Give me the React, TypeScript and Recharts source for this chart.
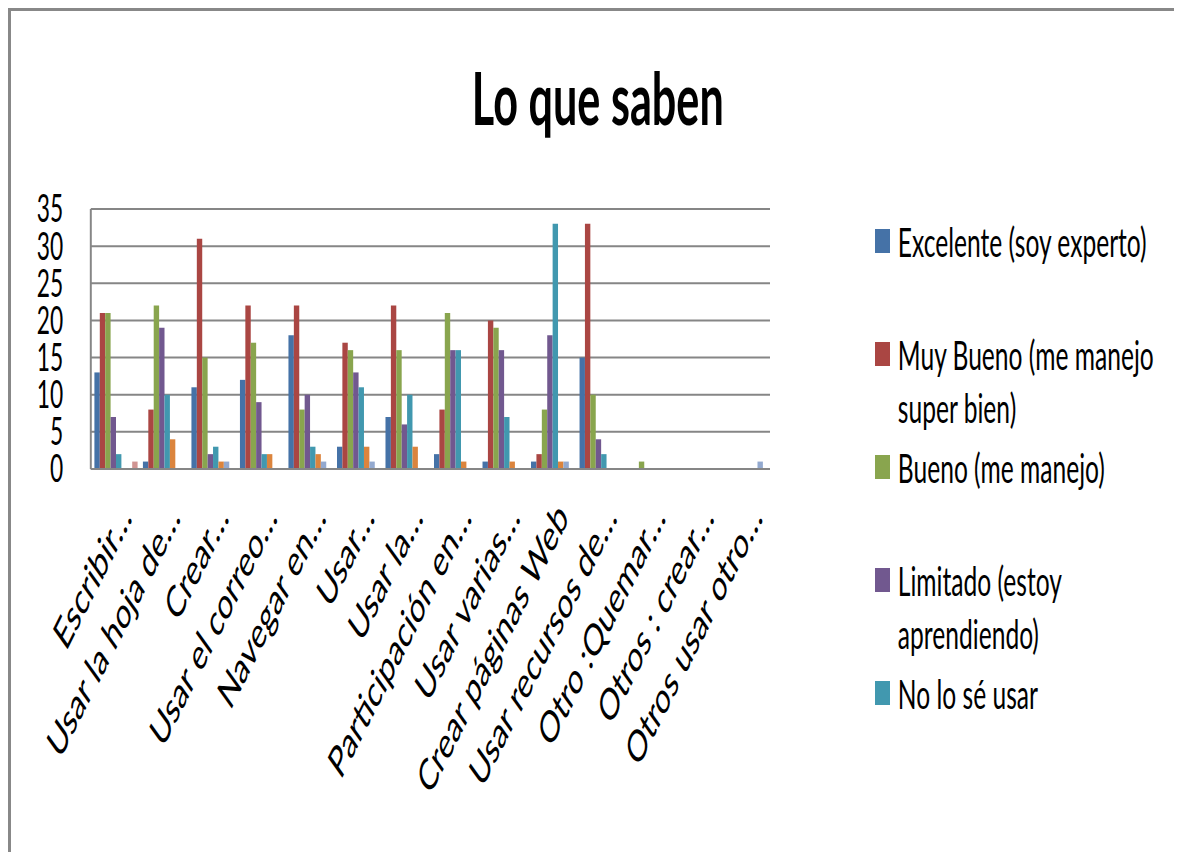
import React from "react";
import { BarChart, Bar, XAxis, YAxis, CartesianGrid } from "recharts";

const categories = [
  "Escribir…",
  "Usar la hoja de…",
  "Crear…",
  "Usar el correo…",
  "Navegar en…",
  "Usar…",
  "Usar la…",
  "Participación en…",
  "Usar varias…",
  "Crear páginas Web",
  "Usar recursos de…",
  "Otro :Quemar…",
  "Otros : crear…",
  "Otros usar otro…",
];

const excelente = [13, 1, 11, 12, 18, 3, 7, 2, 1, 1, 15, 0, 0, 0];
const muyBueno = [21, 8, 31, 22, 22, 17, 22, 8, 20, 2, 33, 0, 0, 0];
const bueno = [21, 22, 15, 17, 8, 16, 16, 21, 19, 8, 10, 1, 0, 0];
const limitado = [7, 19, 2, 9, 10, 13, 6, 16, 16, 18, 4, 0, 0, 0];
const noLoSe = [2, 10, 3, 2, 3, 11, 10, 16, 7, 33, 2, 0, 0, 0];
const serie6 = [0, 4, 1, 2, 2, 3, 3, 1, 1, 1, 0, 0, 0, 0];
const serie7 = [0, 0, 1, 0, 1, 1, 0, 0, 0, 1, 0, 0, 0, 1];
const serie8 = [1, 0, 0, 0, 0, 0, 0, 0, 0, 0, 0, 0, 0, 0];

const yTicks = [0, 5, 10, 15, 20, 25, 30, 35];

const series = [
  { key: "excelente", name: "Excelente (soy experto)", values: excelente, color: "#4572A7", legend: true },
  { key: "muyBueno", name: "Muy Bueno (me manejo super bien)", values: muyBueno, color: "#AA4643", legend: true },
  { key: "bueno", name: "Bueno (me manejo)", values: bueno, color: "#89A54E", legend: true },
  { key: "limitado", name: "Limitado (estoy aprendiendo)", values: limitado, color: "#71588F", legend: true },
  { key: "noLoSe", name: "No lo sé usar", values: noLoSe, color: "#4198AF", legend: true },
  { key: "serie6", name: "Serie 6", values: serie6, color: "#DB843D", legend: false },
  { key: "serie7", name: "Serie 7", values: serie7, color: "#93A9CF", legend: false },
  { key: "serie8", name: "Serie 8", values: serie8, color: "#D09492", legend: false },
];

const data = categories.map((name, i) => {
  const row: Record<string, string | number> = { name };
  series.forEach((s) => {
    row[s.key] = s.values[i];
  });
  return row;
});

// the original picture is an Excel chart squeezed horizontally; draw it wide and squeeze it the same way
const SQUEEZE = 0.6;
const FONT = "Lato, 'Open Sans', sans-serif";

const XTick = ({ x, y, payload }: any) => (
  <g transform={`translate(${x + 30},${y + 50})`}>
    <text textAnchor="end" transform="rotate(-50)" fontSize={44} fill="#000" fontFamily={FONT}>
      {payload.value}
    </text>
  </g>
);

export default function App() {
  const chartWidth = 1160 / SQUEEZE;
  return (
    <div
      style={{
        width: 1171,
        height: 841,
        overflow: "hidden",
        borderTop: "3px solid #888",
        borderLeft: "3px solid #888",
        position: "relative",
        background: "#fff",
      }}
    >
      <style>{"html, body { overflow: hidden; }"}</style>
      <div
        style={{
          width: chartWidth,
          height: 830,
          transform: `scaleX(${SQUEEZE})`,
          transformOrigin: "0 0",
          position: "relative",
        }}
      >
        <div
          style={{
            position: "absolute",
            left: 478,
            width: 1000,
            top: 46,
            textAlign: "center",
            fontFamily: FONT,
            fontWeight: 700,
            fontSize: 72,
            lineHeight: "80px",
            color: "#000",
          }}
        >
          Lo que saben
        </div>
        <div style={{ position: "absolute", left: 1440, top: 204, width: 520, fontFamily: FONT }}>
          {series
            .filter((s) => s.legend)
            .map((s) => (
              <div key={s.key} style={{ display: "flex", height: 113, alignItems: "flex-start" }}>
                <div style={{ width: 25, height: 24, marginTop: 14, background: s.color, flexShrink: 0 }} />
                <div style={{ marginLeft: 13, width: 480, fontSize: 41, lineHeight: "53px", color: "#000" }}>
                  {s.name}
                </div>
              </div>
            ))}
        </div>
        <BarChart
          width={chartWidth}
          height={830}
          data={data}
          margin={{ top: 198, right: chartWidth - 1265, left: 0, bottom: 0 }}
          barGap={0}
          barCategoryGap={6}
        >
          <CartesianGrid vertical={false} stroke="#868686" strokeWidth={2} />
          <XAxis
            dataKey="name"
            interval={0}
            tickLine={false}
            tickSize={0}
            tickMargin={0}
            axisLine={{ stroke: "#868686", strokeWidth: 2 }}
            height={372}
            tick={<XTick />}
          />
          <YAxis
            domain={[0, 35]}
            ticks={yTicks}
            interval={0}
            width={133}
            tickLine={false}
            tickSize={0}
            tickMargin={46}
            axisLine={{ stroke: "#868686", strokeWidth: 3.3 }}
            tick={{ fontSize: 38, fill: "#000", fontFamily: FONT }}
          />
          {series.map((s) => (
            <Bar
              key={s.key}
              dataKey={s.key}
              name={s.name}
              fill={s.color}
              isAnimationActive={false}
            />
          ))}
        </BarChart>
      </div>
    </div>
  );
}
